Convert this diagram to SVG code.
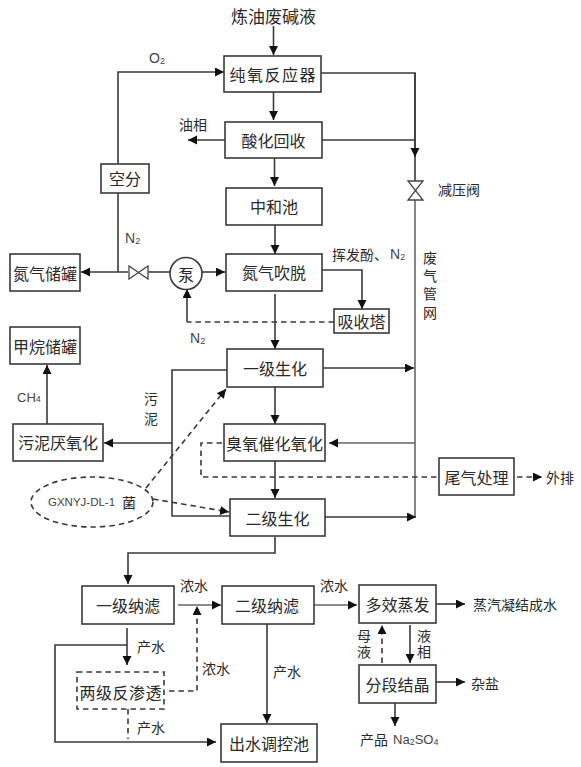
<svg xmlns="http://www.w3.org/2000/svg" width="581" height="767" viewBox="0 0 581 767">
<style>
text{font-family:"Noto Sans CJK SC","Liberation Sans",sans-serif;fill:#2a2a2a;dominant-baseline:central}
.m{font-size:16px;text-anchor:middle}
.l{font-size:14px}
.s{font-size:14px;font-family:"Liberation Sans",sans-serif;fill:#444}
.b{fill:#fff;stroke:#3a3a3a;stroke-width:1.6}
.d{stroke-dasharray:5.500 4}
.c path,.c line{fill:none;stroke:#3a3a3a;stroke-width:1.6}
.c .a{marker-end:url(#ah)}
.c .g{stroke:#666}
.v{fill:#fff;stroke:#444;stroke-width:1.3}
</style>
<defs><marker id="ah" markerUnits="userSpaceOnUse" markerWidth="10" markerHeight="10" refX="9" refY="4.500" orient="auto"><path d="M0 0L9 4.500L0 9Z" fill="#111"/></marker></defs>
<rect width="581" height="767" fill="#fff"/>
<g id="connectors" class="c">
<path class="a" d="M273.500 26V55"/>
<path class="a" d="M118 164V72H224"/>
<path d="M321 73H415V181"/>
<path class="a" d="M415 73V157"/>
<path d="M322 140H415"/>
<path class="g" d="M415 200V517"/>
<path class="a" d="M273.500 92V120"/>
<path class="a" d="M274.500 158V186"/>
<path class="a" d="M275 225V254"/>
<path class="a" d="M225 140H188"/>
<path d="M118 193V272"/>
<path class="a" d="M128 272H81"/>
<path d="M148 272H170"/>
<path class="a" d="M202 272H225"/>
<path class="d" d="M334 322H187"/>
<path class="a" d="M187 322V289"/>
<path class="a" d="M322 270H362V309"/>
<path class="a" d="M275 294V349"/>
<path class="a" d="M323 368H414"/>
<path class="a" d="M275 387V424"/>
<path d="M227 370H172V516H230"/>
<path class="a" d="M172 443H104"/>
<path class="a" d="M47 424V365"/>
<path class="g a" d="M415 443H329"/>
<path class="d" d="M222 443H201V477H438"/>
<path class="a" d="M275 461V498"/>
<path class="a" d="M325 517H416"/>
<path class="a" d="M275 537V553H128V584"/>
<path class="d a" d="M146 488L226 389"/>
<path class="d a" d="M153 499L229 512"/>
<path class="d a" d="M517 477H542"/>
<path class="g a" d="M178 605H221"/>
<path class="d a" d="M169 691H197V606"/>
<path class="a" d="M127 628V665"/>
<path class="a" d="M127 645H55V742H216"/>
<path class="d" d="M128 709V739"/>
<path class="a" d="M267 624V723"/>
<path class="g a" d="M314 605H357"/>
<path class="a" d="M436 604H465"/>
<path class="a" d="M410 625V663"/>
<path class="d a" d="M382 663V625"/>
<path class="a" d="M436 682H465"/>
<path class="a" d="M395 703V726"/>
</g>
<g id="valve1"><path class="v" d="M408 181H423L408 200H423Z"/></g>
<g id="valve2"><path class="v" d="M129 266V279L148 266V279Z"/></g>
<g id="n1"><rect class="b" x="224" y="56" width="97" height="36"/><text class="m" x="272.500" y="74" textLength="86" lengthAdjust="spacing">纯氧反应器</text></g>
<g id="n2"><rect class="b" x="225" y="122" width="97" height="36"/><text class="m" x="273.500" y="140">酸化回收</text></g>
<g id="n3"><rect class="b" x="226" y="188" width="96" height="37"/><text class="m" x="274" y="206">中和池</text></g>
<g id="n4"><rect class="b" x="226" y="254" width="96" height="37"/><text class="m" x="274" y="272">氮气吹脱</text></g>
<g id="n5"><rect class="b" x="101" y="164" width="48" height="29"/><text class="m" x="125" y="178">空分</text></g>
<g id="n6"><rect class="b" x="10" y="254" width="70" height="37"/><text class="m" x="45" y="273">氮气储罐</text></g>
<g id="n7"><circle class="b" cx="186" cy="273.500" r="16"/><text class="m" x="186" y="274">泵</text></g>
<g id="n8"><rect class="b" x="334" y="309" width="55" height="24"/><text class="m" x="361.500" y="321">吸收塔</text></g>
<g id="n9"><rect class="b" x="227" y="349" width="96" height="38"/><text class="m" x="275" y="368">一级生化</text></g>
<g id="n10"><rect class="b" x="10" y="327" width="70" height="37"/><text class="m" x="45" y="346">甲烷储罐</text></g>
<g id="n11"><rect class="b" x="13" y="424" width="90" height="37"/><text class="m" x="58" y="442">污泥厌氧化</text></g>
<g id="n12"><rect class="b" x="224" y="424" width="101" height="37"/><text class="m" x="274.500" y="443" textLength="97" lengthAdjust="spacing">臭氧催化氧化</text></g>
<g id="n13"><rect class="b" x="230" y="499" width="95" height="37"/><text class="m" x="277.500" y="518">二级生化</text></g>
<g id="n14"><rect class="b" x="439" y="458" width="75" height="37"/><text class="m" x="476.500" y="477">尾气处理</text></g>
<g id="n15"><ellipse cx="92" cy="502" rx="61" ry="25" fill="#fff" stroke="#3a3a3a" stroke-width="1.6" stroke-dasharray="5.500 4"/><text x="48" y="502" class="s" style="font-size:11.500px">GXNYJ-DL-1</text><text class="l" x="122" y="502">菌</text></g>
<g id="n16"><rect class="b" x="82" y="586" width="92" height="38"/><text class="m" x="128" y="605">一级纳滤</text></g>
<g id="n17"><rect class="b" x="222" y="586" width="92" height="38"/><text class="m" x="267" y="605">二级纳滤</text></g>
<g id="n18"><rect class="b" x="359" y="585" width="77" height="38"/><text class="m" x="397.500" y="604">多效蒸发</text></g>
<g id="n19"><rect class="b" x="359" y="665" width="77" height="38"/><text class="m" x="397.500" y="684">分段结晶</text></g>
<g id="n20"><rect class="b d" x="77" y="672" width="87" height="37"/><text class="m" x="120.500" y="692" textLength="82" lengthAdjust="spacing">两级反渗透</text></g>
<g id="n21"><rect class="b" x="221" y="724" width="96" height="38"/><text class="m" x="269" y="743">出水调控池</text></g>
<g id="labels">
<text x="231" y="15" style="font-size:17px">炼油废碱液</text>
<text class="s" x="149" y="58">O<tspan font-size="9" dy="3">2</tspan></text>
<text class="l" x="179" y="124">油相</text>
<text class="l" x="438" y="189">减压阀</text>
<text class="s" x="125" y="238">N<tspan font-size="9" dy="3">2</tspan></text>
<text class="l" x="332" y="254">挥发酚、</text><text class="s" x="390" y="254">N<tspan font-size="9" dy="3">2</tspan></text>
<text class="l" x="423" y="257">废</text><text class="l" x="423" y="275">气</text><text class="l" x="423" y="293">管</text><text class="l" x="423" y="312">网</text>
<text class="s" x="190" y="338">N<tspan font-size="9" dy="3">2</tspan></text>
<text class="s" x="17" y="397" style="font-size:13px">CH<tspan font-size="9" dy="2">4</tspan></text>
<text class="l" x="144" y="398">污</text><text class="l" x="144" y="418">泥</text>
<text class="l" x="546" y="477">外排</text>
<text class="l" x="180" y="585">浓水</text>
<text class="l" x="320" y="585">浓水</text>
<text class="l" x="137" y="646">产水</text>
<text class="l" x="202" y="668">浓水</text>
<text class="l" x="273" y="671">产水</text>
<text class="l" x="137" y="727">产水</text>
<text class="l" x="473" y="604">蒸汽凝结成水</text>
<text class="l" x="364" y="645" text-anchor="middle" writing-mode="vertical-rl" letter-spacing="2">母液</text>
<text class="l" x="424" y="645" text-anchor="middle" writing-mode="vertical-rl" letter-spacing="2">液相</text>
<text class="l" x="471" y="683">杂盐</text>
<text class="l" x="360" y="739">产品</text><text class="s" x="393" y="739" style="font-size:13px">Na<tspan font-size="9" dy="3">2</tspan><tspan dy="-3">SO</tspan><tspan font-size="9" dy="3">4</tspan></text>
</g>
</svg>
